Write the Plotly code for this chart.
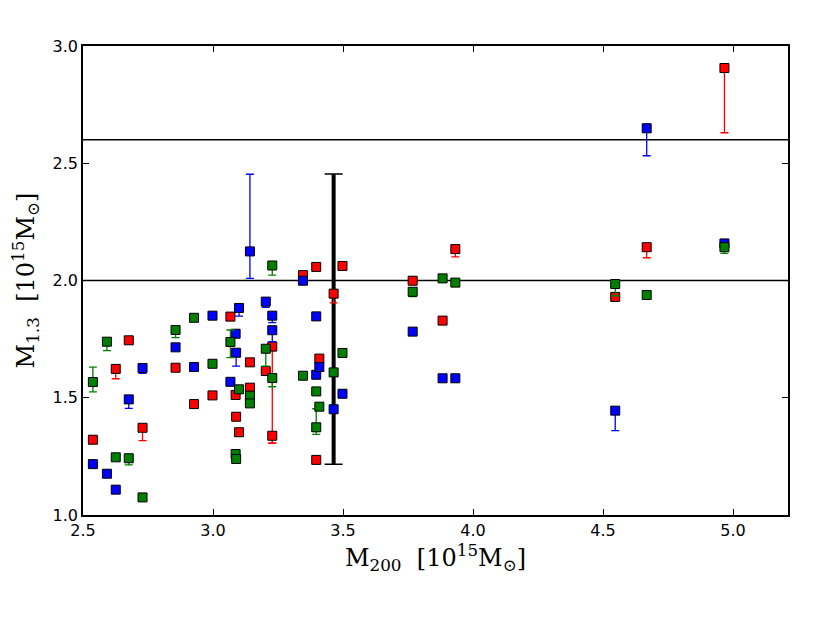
import plotly.graph_objects as go

# red estimates
red_x = [2.538, 2.626, 2.676, 2.729, 2.856, 2.927, 2.998, 3.067, 3.087, 3.089, 3.100,
         3.142, 3.142, 3.203, 3.228, 3.228, 3.346, 3.397, 3.397, 3.409, 3.464, 3.498,
         3.768, 3.883, 3.932, 4.547, 4.668, 4.967]
red_y = [1.321, 1.623, 1.745, 1.372, 1.628, 1.473, 1.510, 1.846, 1.512, 1.419, 1.353,
         1.651, 1.543, 1.614, 1.718, 1.338, 2.023, 2.058, 1.235, 1.667, 1.944, 2.062,
         1.999, 1.829, 2.134, 1.930, 2.142, 2.906]
red_lo = [0, 0.042, 0.012, 0.055, 0.012, 0, 0, 0, 0, 0, 0,
          0, 0, 0.010, 0.412, 0.032, 0, 0, 0, 0, 0.039, 0,
          0, 0, 0.033, 0, 0.045, 0.276]
red_hi = [0] * len(red_x)

# blue estimates
blue_x = [2.538, 2.592, 2.626, 2.676, 2.729, 2.856, 2.927, 2.998, 3.067, 3.087, 3.089,
          3.100, 3.142, 3.203, 3.228, 3.228, 3.346, 3.397, 3.397, 3.409, 3.464, 3.498,
          3.768, 3.883, 3.932, 4.547, 4.668, 4.967]
blue_y = [1.217, 1.176, 1.108, 1.493, 1.627, 1.715, 1.631, 1.850, 1.568, 1.773, 1.692,
          1.883, 2.124, 1.910, 1.850, 1.788, 1.999, 1.847, 1.598, 1.631, 1.451, 1.517,
          1.782, 1.583, 1.583, 1.445, 2.649, 2.158]
blue_lo = [0, 0, 0, 0.038, 0.023, 0, 0.010, 0, 0, 0, 0.057,
           0.035, 0.115, 0.024, 0.030, 0.049, 0, 0, 0, 0, 0, 0,
           0, 0, 0, 0.085, 0.117, 0]
blue_hi = [0, 0, 0, 0, 0, 0, 0, 0, 0, 0, 0,
           0, 0.329, 0, 0, 0, 0, 0, 0, 0, 0, 0,
           0, 0, 0, 0, 0.018, 0.010]

# green estimates
green_x = [2.538, 2.592, 2.626, 2.676, 2.729, 2.856, 2.927, 2.998, 3.067, 3.087, 3.089,
           3.100, 3.142, 3.142, 3.203, 3.228, 3.228, 3.346, 3.397, 3.397, 3.409, 3.464,
           3.498, 3.768, 3.883, 3.932, 4.547, 4.668, 4.967]
green_y = [1.567, 1.739, 1.246, 1.242, 1.075, 1.789, 1.841, 1.645, 1.738, 1.260, 1.239,
           1.536, 1.509, 1.476, 1.709, 2.064, 1.584, 1.594, 1.527, 1.374, 1.462, 1.608,
           1.691, 1.952, 2.009, 1.991, 1.985, 1.938, 2.142]
green_lo = [0.042, 0.038, 0, 0.028, 0, 0.033, 0, 0, 0.067, 0, 0,
            0.012, 0, 0, 0.074, 0.041, 0.037, 0, 0, 0.030, 0, 0,
            0, 0.021, 0, 0, 0.050, 0, 0.026]
green_hi = [0.064, 0, 0, 0, 0, 0, 0, 0, 0.051, 0, 0,
            0, 0, 0, 0, 0, 0, 0, 0, 0.079, 0, 0,
            0, 0, 0, 0, 0, 0, 0]

# black range bar
bar_x = [3.464]
bar_lo = [1.216]
bar_hi = [2.454]

hlines = [2.0, 2.6]

fig = go.Figure()

for hy in hlines:
    fig.add_hline(y=hy, line_color="black", line_width=1.5, layer="below")

# thick vertical part of the black bar, thin caps drawn by an error bar
fig.add_trace(go.Scatter(x=bar_x * 2, y=[bar_lo[0], bar_hi[0]], mode="lines",
                         line=dict(color="black", width=4), showlegend=False, hoverinfo="skip"))
bar_mid = [(bar_lo[0] + bar_hi[0]) / 2]
fig.add_trace(go.Scatter(x=bar_x, y=bar_mid, mode="markers", marker=dict(size=1, opacity=0),
                         error_y=dict(type="data", symmetric=False,
                                      array=[bar_hi[0] - bar_mid[0]],
                                      arrayminus=[bar_mid[0] - bar_lo[0]],
                                      color="black", thickness=1.5, width=9),
                         showlegend=False, hoverinfo="skip"))

series = [
    (red_x, red_y, red_lo, red_hi, "#ff0000"),
    (blue_x, blue_y, blue_lo, blue_hi, "#0000ff"),
    (green_x, green_y, green_lo, green_hi, "#007f00"),
]
for xs, ys, lo, hi, col in series:
    fig.add_trace(go.Scatter(
        x=xs, y=ys, mode="markers",
        marker=dict(symbol="square", size=9, color=col, line=dict(color="black", width=1)),
        error_y=dict(type="data", symmetric=False, array=hi, arrayminus=lo,
                     color=col, thickness=1.3, width=4),
        showlegend=False))

axis_common = dict(showline=True, linecolor="black", linewidth=1.5, mirror="ticks",
                   ticks="inside", ticklen=6, tickwidth=1, tickcolor="black",
                   showgrid=False, zeroline=False,
                   tickfont=dict(family="DejaVu Sans", size=16, color="black"))
title_font = dict(family="DejaVu Serif", size=24, color="black")

fig.update_xaxes(range=[2.5, 5.2115], tickvals=[2.5, 3.0, 3.5, 4.0, 4.5, 5.0],
                 ticktext=["2.5", "3.0", "3.5", "4.0", "4.5", "5.0"],
                 title=dict(text="M<sub>200</sub>  [10<sup>15</sup>M<sub>⊙</sub>]",
                            font=title_font, standoff=10),
                 **axis_common)
fig.update_yaxes(range=[1.0, 3.0], tickvals=[1.0, 1.5, 2.0, 2.5, 3.0],
                 ticktext=["1.0", "1.5", "2.0", "2.5", "3.0"],
                 title=dict(text="M<sub>1.3</sub>  [10<sup>15</sup>M<sub>⊙</sub>]",
                            font=title_font, standoff=12),
                 **axis_common)

# page body adds 8px, so margins are trimmed by that
fig.update_layout(width=830, height=623, margin=dict(l=75, r=50, t=38, b=116),
                  paper_bgcolor="white", plot_bgcolor="white")

fig.write_html("out.html")
